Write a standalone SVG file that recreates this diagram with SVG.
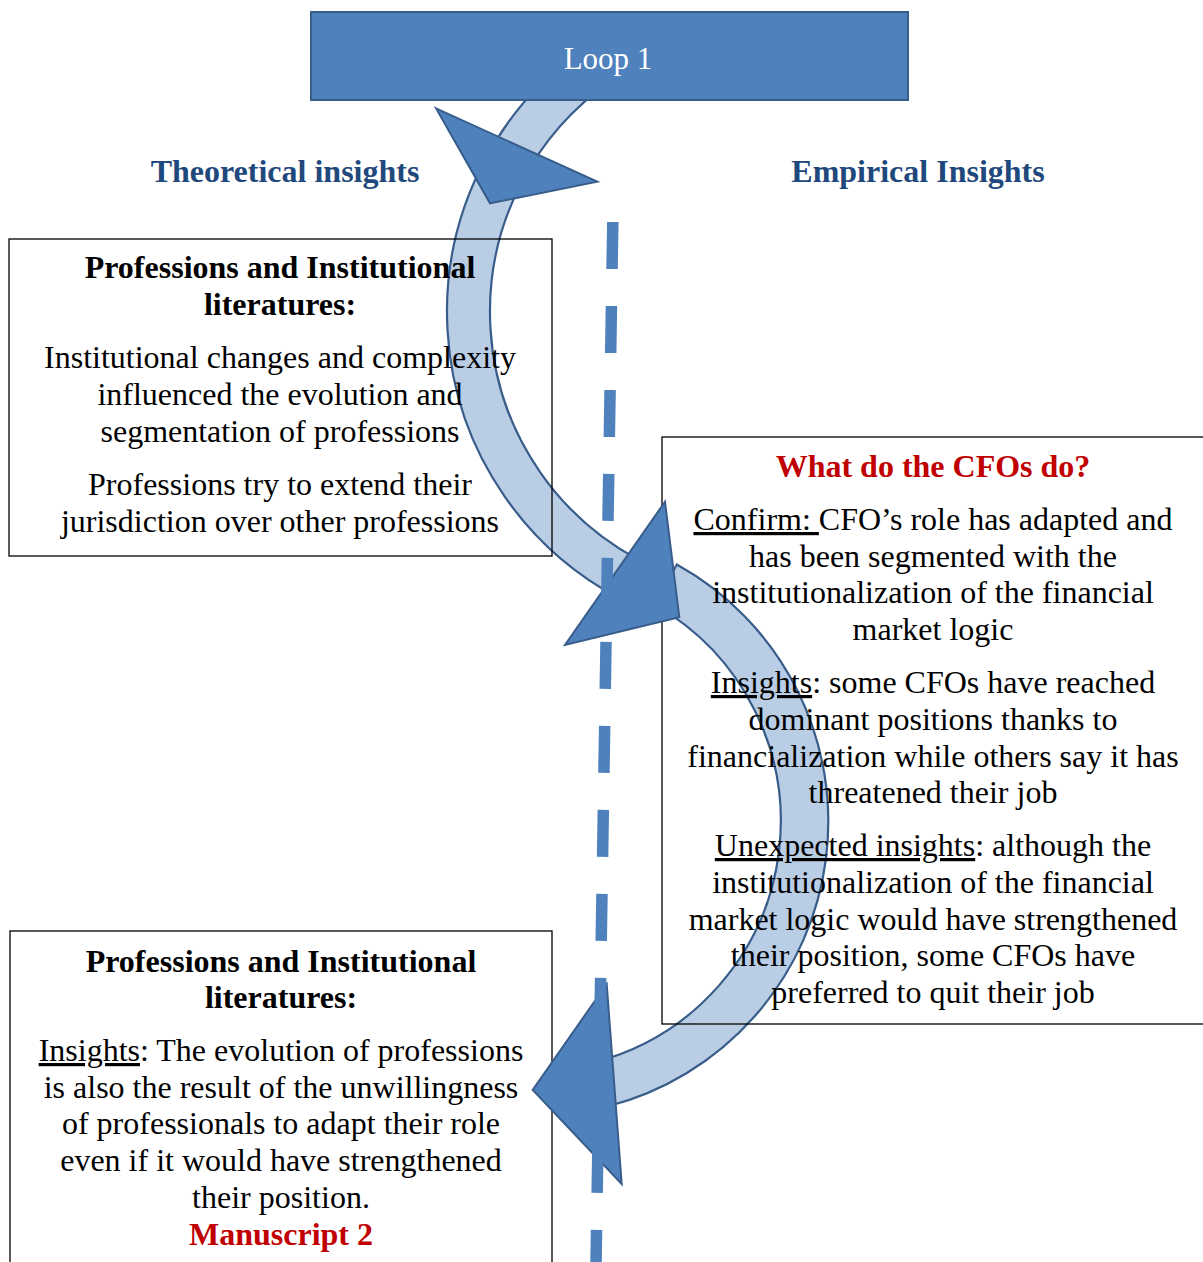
<svg xmlns="http://www.w3.org/2000/svg" width="1203" height="1262" viewBox="0 0 1203 1262">
<style>
.t{font-family:"Liberation Serif","Times New Roman",serif;font-size:32px;text-anchor:middle;fill:#000}
.b{font-weight:bold}
.hd{font-weight:bold;fill:#1F497D}
.red{font-weight:bold;fill:#C00000}
.box{fill:none;stroke:#000;stroke-width:1.3}
.band{fill:#B9CDE5;stroke:#385D8A;stroke-width:2.2}
.head{fill:#4F81BD;stroke:#385D8A;stroke-width:2;stroke-linejoin:miter}
.dash{stroke:#4F81BD;stroke-width:11.5;stroke-dasharray:47 37;fill:none}
.u{text-decoration:underline}
</style>
<rect width="1203" height="1262" fill="#fff"/>
<g id="connectors">
  <path id="band1" class="band" d="M 585.2 46.6 A 324 324 0 0 0 618.9 598.1 L 639.1 560.1 A 281 281 0 0 1 609.8 81.8 Z"/>
  <path id="band2" class="band" d="M 676.8 564.5 A 294 294 0 0 1 607.9 1106.3 L 596.8 1061.7 A 249 249 0 0 0 654.9 604.9 Z"/>
</g>
<g id="loop1">
  <rect x="311" y="12" width="597" height="88" fill="#4F81BD" stroke="#385D8A" stroke-width="2"/>
  <text class="t" x="608" y="69" style="fill:#fff;font-size:31px">Loop 1</text>
</g>
<g id="headers">
  <text class="t hd" x="285" y="182">Theoretical insights</text>
  <text class="t hd" x="918" y="182">Empirical Insights</text>
</g>
<g id="box1">
  <rect class="box" x="9" y="239" width="543" height="317"/>
  <text class="t b" x="280" y="278">Professions and Institutional</text>
  <text class="t b" x="280" y="315">literatures:</text>
  <text class="t" x="280" y="368">Institutional changes and complexity</text>
  <text class="t" x="280" y="405">influenced the evolution and</text>
  <text class="t" x="280" y="442">segmentation of professions</text>
  <text class="t" x="280" y="495">Professions try to extend their</text>
  <text class="t" x="280" y="532">jurisdiction over other professions</text>
</g>
<g id="box2">
  <rect class="box" x="662" y="437" width="545" height="587"/>
  <text class="t red" x="933" y="477">What do the CFOs do?</text>
  <text class="t" x="933" y="530"><tspan class="u">Confirm: </tspan>CFO’s role has adapted and</text>
  <text class="t" x="933" y="567">has been segmented with the</text>
  <text class="t" x="933" y="603">institutionalization of the financial</text>
  <text class="t" x="933" y="640">market logic</text>
  <text class="t" x="933" y="693"><tspan class="u">Insights</tspan>: some CFOs have reached</text>
  <text class="t" x="933" y="730">dominant positions thanks to</text>
  <text class="t" x="933" y="767">financialization while others say it has</text>
  <text class="t" x="933" y="803">threatened their job</text>
  <text class="t" x="933" y="856"><tspan class="u">Unexpected insights</tspan>: although the</text>
  <text class="t" x="933" y="893">institutionalization of the financial</text>
  <text class="t" x="933" y="930">market logic would have strengthened</text>
  <text class="t" x="933" y="966">their position, some CFOs have</text>
  <text class="t" x="933" y="1003">preferred to quit their job</text>
</g>
<g id="box3">
  <rect class="box" x="10" y="931" width="542" height="340"/>
  <text class="t b" x="281" y="972">Professions and Institutional</text>
  <text class="t b" x="281" y="1008">literatures:</text>
  <text class="t" x="281" y="1061"><tspan class="u">Insights</tspan>: The evolution of professions</text>
  <text class="t" x="281" y="1098">is also the result of the unwillingness</text>
  <text class="t" x="281" y="1134">of professionals to adapt their role</text>
  <text class="t" x="281" y="1171">even if it would have strengthened</text>
  <text class="t" x="281" y="1208">their position.</text>
  <text class="t red" x="281" y="1245">Manuscript 2</text>
</g>
<g id="arrowheads">
  <polygon class="head" points="436,108.3 597.3,181.7 490,203.3"/>
  <polygon class="head" points="665,501.7 565,645 679.3,617.3"/>
  <polygon class="head" points="606.7,984 532.7,1090 621.7,1184"/>
</g>
<g id="divider">
  <line class="dash" x1="612.8" y1="222" x2="595.6" y2="1290"/>
</g>
</svg>
